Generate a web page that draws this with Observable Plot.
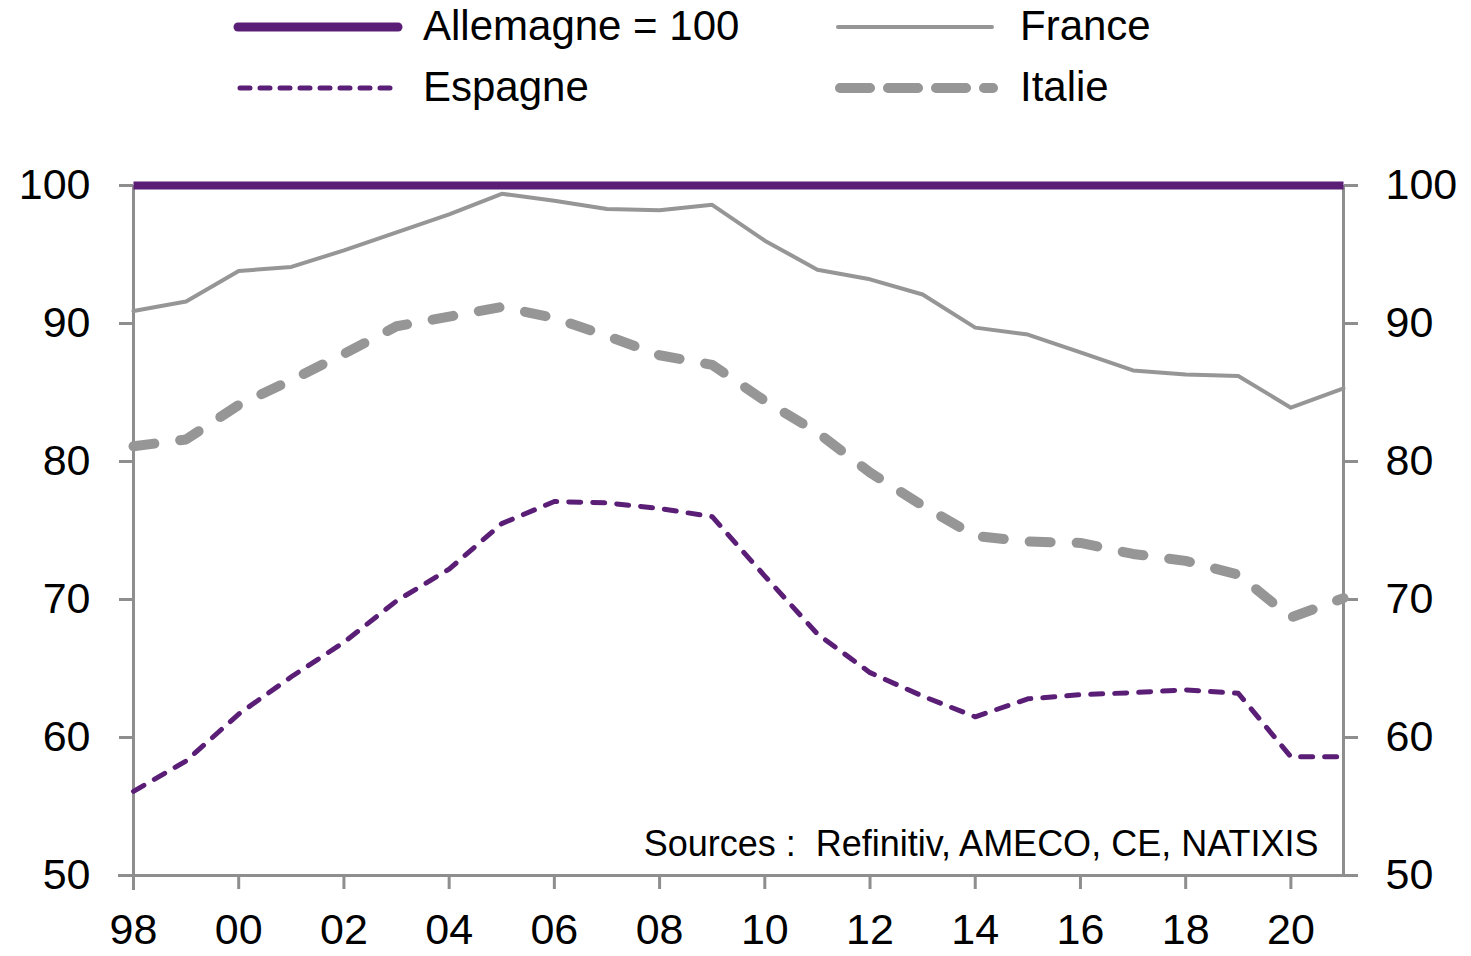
<!DOCTYPE html>
<html>
<head>
<meta charset="utf-8">
<script src="https://cdn.jsdelivr.net/npm/d3@7"></script>
<script src="https://cdn.jsdelivr.net/npm/@observablehq/plot@0.6"></script>
<style>
  body { margin: 0; background: #fff; font-family: "Liberation Sans", Arial, sans-serif; }
  #legend { position: relative; width: 1471px; height: 130px; }
  #legend svg { position: absolute; overflow: visible; }
  #legend span { position: absolute; font-size: 42px; line-height: 40px; color: #000; white-space: nowrap; }
  #chart svg { display: block; overflow: visible; }
</style>
</head>
<body>
<div id="legend"></div>
<div id="chart"></div>
<script>
// ---- data ----
const years = [1998, 1999, 2000, 2001, 2002, 2003, 2004, 2005, 2006, 2007, 2008, 2009,
               2010, 2011, 2012, 2013, 2014, 2015, 2016, 2017, 2018, 2019, 2020, 2021];
const allemagne = [100, 100, 100, 100, 100, 100, 100, 100, 100, 100, 100, 100,
                   100, 100, 100, 100, 100, 100, 100, 100, 100, 100, 100, 100];
const france = [90.9, 91.6, 93.8, 94.1, 95.3, 96.6, 97.9, 99.4, 98.9, 98.3, 98.2, 98.6,
                96.0, 93.9, 93.2, 92.1, 89.7, 89.2, 87.9, 86.6, 86.3, 86.2, 83.9, 85.3];
const italie = [81.1, 81.6, 84.1, 85.9, 87.8, 89.8, 90.5, 91.2, 90.4, 89.1, 87.7, 87.0,
                84.4, 82.1, 79.2, 76.8, 74.6, 74.2, 74.1, 73.3, 72.8, 71.8, 68.7, 70.1];
const espagne = [56.1, 58.3, 61.7, 64.4, 66.9, 69.9, 72.2, 75.5, 77.1, 77.0, 76.6, 76.0,
                 71.7, 67.5, 64.7, 63.0, 61.5, 62.8, 63.1, 63.25, 63.45, 63.2, 58.6, 58.6];
const yTicks = [50, 60, 70, 80, 90, 100];
const xTicks = [1998, 2000, 2002, 2004, 2006, 2008, 2010, 2012, 2014, 2016, 2018, 2020];
const xTickLabels = ["98", "00", "02", "04", "06", "08", "10", "12", "14", "16", "18", "20"];
const seriesNames = ["Allemagne = 100", "France", "Espagne", "Italie"];
const sourceText = "Sources :\u00a0\u00a0Refinitiv, AMECO, CE, NATIXIS";

const PURPLE = "#5a1e76";
const GREY = "#969696";
const AXIS = "#8e8e8e";

const data = years.map((yr, i) => ({
  year: yr, allemagne: allemagne[i], france: france[i], italie: italie[i], espagne: espagne[i]
}));

// ---- legend ----
const legendItems = [
  {name: seriesNames[0], x: 238, y: 27, stroke: PURPLE, width: 9, dash: null, len: 160, tx: 423},
  {name: seriesNames[1], x: 838, y: 27, stroke: GREY, width: 4, dash: null, len: 154, tx: 1020},
  {name: seriesNames[2], x: 240, y: 88, stroke: PURPLE, width: 5, dash: "10,10", len: 157, tx: 423},
  {name: seriesNames[3], x: 840, y: 88, stroke: GREY, width: 10, dash: "30,18", len: 153, tx: 1020}
];
const legend = d3.select("#legend");
for (const it of legendItems) {
  const s = legend.append("svg")
    .attr("width", it.len).attr("height", 20)
    .style("left", it.x + "px").style("top", (it.y - 10) + "px");
  s.append("line")
    .attr("x1", 0).attr("x2", it.len).attr("y1", 10).attr("y2", 10)
    .attr("stroke", it.stroke).attr("stroke-width", it.width)
    .attr("stroke-linecap", "round")
    .attr("stroke-dasharray", it.dash);
  legend.append("span").text(it.name)
    .style("left", it.tx + "px").style("top", (it.y - 21) + "px");
}

// ---- chart ----
const chart = Plot.plot({
  width: 1471,
  height: 826,
  marginTop: 55,
  marginBottom: 81,
  marginLeft: 133,
  marginRight: 128,
  style: {fontFamily: "'Liberation Sans', Arial, sans-serif", fontSize: "43px", color: "#000", background: "#fff", overflow: "visible"},
  x: {domain: [1998, 2021]},
  y: {domain: [50, 100]},
  marks: [
    Plot.axisY({anchor: "left", ticks: yTicks, tickSize: 14, tickPadding: 29, label: null,
                stroke: AXIS, strokeWidth: 3, fill: "#000", fontSize: 43}),
    Plot.axisY({anchor: "right", ticks: yTicks, tickSize: 14, tickPadding: 28, label: null,
                stroke: AXIS, strokeWidth: 3, fill: "#000", fontSize: 43}),
    Plot.axisX({anchor: "bottom", ticks: xTicks, tickSize: 14, tickPadding: 24, label: null,
                tickFormat: d => xTickLabels[xTicks.indexOf(d)],
                stroke: AXIS, strokeWidth: 3, fill: "#000", fontSize: 43}),
    Plot.ruleX([1998], {stroke: AXIS, strokeWidth: 3, insetBottom: -15}),
    Plot.ruleX([2021], {stroke: AXIS, strokeWidth: 3, insetBottom: -1}),
    Plot.ruleY([50], {x1: 1998, x2: 2021, stroke: AXIS, strokeWidth: 3, insetLeft: -15, insetRight: -15}),
    Plot.line(data, {x: "year", y: "france", stroke: GREY, strokeWidth: 4, strokeLinejoin: "round"}),
    Plot.line(data, {x: "year", y: "italie", stroke: GREY, strokeWidth: 10, strokeLinecap: "round",
                     strokeLinejoin: "round", strokeDasharray: "21,26"}),
    Plot.line(data, {x: "year", y: "espagne", stroke: PURPLE, strokeWidth: 5, strokeLinecap: "round",
                     strokeLinejoin: "round", strokeDasharray: "12,12"}),
    Plot.line(data, {x: "year", y: "allemagne", stroke: PURPLE, strokeWidth: 8, strokeLinecap: "butt"}),
    Plot.text([sourceText], {frameAnchor: "bottom-right", dx: -25, dy: -20, textAnchor: "end",
                             fontSize: 36, fill: "#000"})
  ]
});
document.getElementById("chart").appendChild(chart);
</script>
</body>
</html>
